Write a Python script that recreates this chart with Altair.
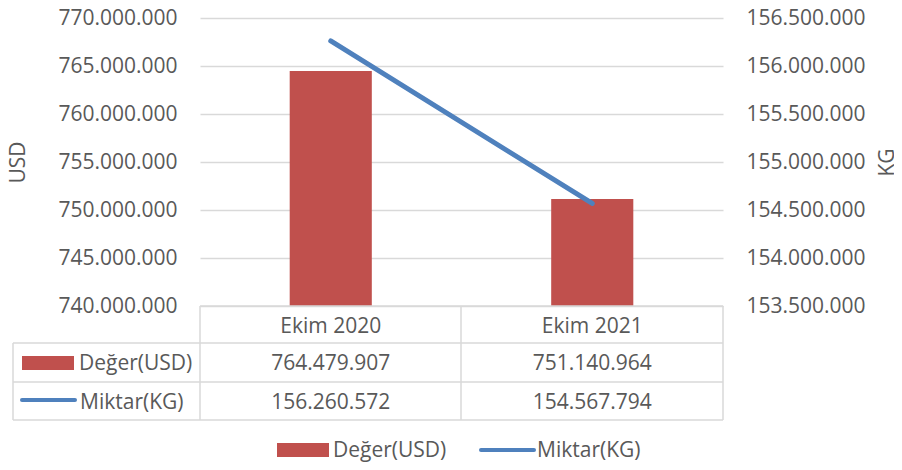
import altair as alt
import pandas as pd

periods = ["Ekim 2020", "Ekim 2021"]
usd_values = [764479907, 751140964]
kg_values = [156260572, 154567794]
usd_ticks = [740000000, 745000000, 750000000, 755000000, 760000000, 765000000, 770000000]
kg_ticks = [153500000, 154000000, 154500000, 155000000, 155500000, 156000000, 156500000]
series_names = ["Değer(USD)", "Miktar(KG)"]

RED = "#C0504D"
BLUE = "#4F81BD"
GRID = "#D9D9D9"
TXT = "#595959"
FONT = "Open Sans"
FS = 21

W, H = 523, 288


def dotted(v):
    return f"{v:,}".replace(",", ".")


df = pd.DataFrame({
    "Period": periods,
    "USD": usd_values,
    "KG": kg_values,
    "USD_label": [dotted(v) for v in usd_values],
    "KG_label": [dotted(v) for v in kg_values],
})

xscale = alt.Scale(domain=periods, paddingInner=0.686, paddingOuter=0.343)
xenc = alt.X("Period:N", scale=xscale, axis=None, sort=periods)

label_expr = "replace(format(datum.value, ','), regexp(',', 'g'), '.')"

bars = alt.Chart(df).mark_bar(color=RED, clip=True).encode(
    x=xenc,
    y=alt.Y(
        "USD:Q",
        scale=alt.Scale(domain=[usd_ticks[0], usd_ticks[-1]], zero=False, nice=False),
        axis=alt.Axis(
            values=usd_ticks, labelExpr=label_expr, orient="left",
            title="USD", titleX=-182, titleY=H / 2, titleAngle=-90,
            titleAlign="center", titleBaseline="middle",
            titleFont=FONT, titleFontSize=FS, titleFontWeight="normal", titleColor=TXT,
            labelFont=FONT, labelFontSize=FS, labelColor=TXT, labelPadding=23,
            domain=False, ticks=False, grid=True, gridColor=GRID, gridWidth=1.3,
        ),
    ),
)

line = alt.Chart(df).mark_line(color=BLUE, strokeWidth=5, strokeCap="round").encode(
    x=xenc,
    y=alt.Y(
        "KG:Q",
        scale=alt.Scale(domain=[kg_ticks[0], kg_ticks[-1]], zero=False, nice=False),
        axis=alt.Axis(
            values=kg_ticks, labelExpr=label_expr, orient="right",
            title="KG", titleX=164, titleY=H / 2, titleAngle=-90,
            titleAlign="center", titleBaseline="middle",
            titleFont=FONT, titleFontSize=FS, titleFontWeight="normal", titleColor=TXT,
            labelFont=FONT, labelFontSize=FS, labelColor=TXT, labelPadding=23,
            domain=False, ticks=False, grid=False,
        ),
    ),
)

# data table: cell texts
hdr = alt.Chart(df).mark_text(font=FONT, fontSize=FS, color=TXT, baseline="alphabetic").encode(
    x=xenc, y=alt.value(315), text="Period:N")
row1 = alt.Chart(df).mark_text(font=FONT, fontSize=FS, color=TXT, baseline="alphabetic").encode(
    x=xenc, y=alt.value(352), text="USD_label:N")
row2 = alt.Chart(df).mark_text(font=FONT, fontSize=FS, color=TXT, baseline="alphabetic").encode(
    x=xenc, y=alt.value(391), text="KG_label:N")

one = pd.DataFrame({"a": [0]})

# table grid lines
hlines = [(0, W, 288), (-187, W, 325), (-187, W, 364), (-187, W, 402)]
vlines = [(-187, 325, 402), (0, 288, 402), (261, 288, 402), (W, 288, 402)]
layers = [bars]
for x1, x2, yy in hlines:
    layers.append(alt.Chart(one).mark_rule(color=GRID, strokeWidth=1.5).encode(
        x=alt.value(x1), x2=alt.value(x2), y=alt.value(yy)))
for xx, y1, y2 in vlines:
    layers.append(alt.Chart(one).mark_rule(color=GRID, strokeWidth=1.5).encode(
        x=alt.value(xx), y=alt.value(y1), y2=alt.value(y2)))

# table row keys
layers.append(alt.Chart(one).mark_rect(color=RED).encode(
    x=alt.value(-178), x2=alt.value(-126), y=alt.value(338), y2=alt.value(352)))
layers.append(alt.Chart(one).mark_rule(color=BLUE, strokeWidth=4, strokeCap="round").encode(
    x=alt.value(-178), x2=alt.value(-125), y=alt.value(382)))
layers.append(alt.Chart(pd.DataFrame({"t": [series_names[0]]})).mark_text(
    font=FONT, fontSize=FS, color=TXT, align="left", baseline="alphabetic").encode(
    x=alt.value(-121), y=alt.value(352), text="t:N"))
layers.append(alt.Chart(pd.DataFrame({"t": [series_names[1]]})).mark_text(
    font=FONT, fontSize=FS, color=TXT, align="left", baseline="alphabetic").encode(
    x=alt.value(-120), y=alt.value(391), text="t:N"))

# bottom legend
LY = 439
layers.append(alt.Chart(one).mark_rect(color=RED).encode(
    x=alt.value(77), x2=alt.value(129), y=alt.value(LY - 14), y2=alt.value(LY)))
layers.append(alt.Chart(pd.DataFrame({"t": [series_names[0]]})).mark_text(
    font=FONT, fontSize=FS, color=TXT, align="left", baseline="alphabetic").encode(
    x=alt.value(133), y=alt.value(LY), text="t:N"))
layers.append(alt.Chart(one).mark_rule(color=BLUE, strokeWidth=4, strokeCap="round").encode(
    x=alt.value(281), x2=alt.value(334), y=alt.value(LY - 7)))
layers.append(alt.Chart(pd.DataFrame({"t": [series_names[1]]})).mark_text(
    font=FONT, fontSize=FS, color=TXT, align="left", baseline="alphabetic").encode(
    x=alt.value(337), y=alt.value(LY), text="t:N"))

layers += [line, hdr, row1, row2]

chart = alt.layer(*layers).resolve_scale(y="independent").properties(
    width=W, height=H,
    autosize=alt.AutoSizeParams(type="none"),
    padding={"left": 192, "top": 10, "right": 171, "bottom": 156},
).configure(background="white").configure_view(stroke=None)

chart.save("out.html", embed_options={"renderer": "svg", "actions": False})
